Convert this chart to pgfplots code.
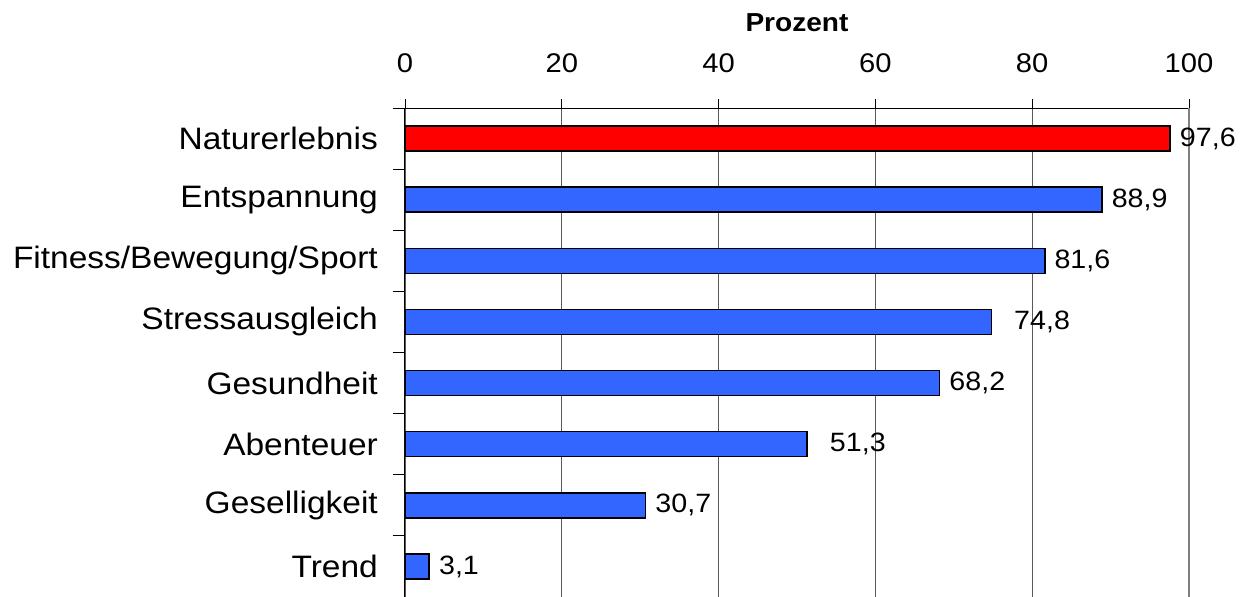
\documentclass[border=0pt]{standalone}
\usepackage{fontspec}
\setmainfont{Liberation Sans}[FakeStretch=1.08]
\usepackage{pgfplots}
\pgfplotsset{compat=1.18}
\usepackage{pgfplotstable}
\usetikzlibrary{calc}

\definecolor{barblue}{HTML}{3366FF}
\definecolor{barred}{HTML}{FF0000}

% Motive, Prozent (Naturerlebnis separat in Rot)
\pgfplotstableread{
pos val
1 88.9
2 81.6
4 68.2
6 30.7
7 3.1
}\blaue
% zwei Beschriftungen stehen im Original weiter rechts
\pgfplotstableread{
pos val
3 74.8
5 51.3
}\blaueweit

\begin{document}
\begin{tikzpicture}
\begin{axis}[
  name=ax,
  scale only axis, width=784bp, height=489bp,
  xmin=0, xmax=100, ymin=-0.5, ymax=7.5, y dir=reverse,
  axis x line*=top, axis y line*=left,
  axis line style={black, line width=1bp},
  tick align=outside,
  xtick={0,20,...,80}, extra x ticks={100},
  xmajorgrids,
  grid style={black!65, line width=0.9bp},
  extra x tick style={grid style={gray, line width=1.8bp}},
  major x tick style={black, line width=0.8bp},
  major tick length=9bp,
  ytick={0,...,7},
  yticklabels={Naturerlebnis, Entspannung, Fitness/Bewegung/Sport, Stressausgleich, Gesundheit, Abenteuer, Geselligkeit, Trend},
  major y tick style={draw=none},
  minor ytick={-0.5,0.5,...,7.5},
  minor y tick style={black, line width=0.8bp},
  minor tick length=12bp,
  /pgf/number format/assume math mode=true,
  xticklabel style={font=\fontsize{27bp}{32bp}\selectfont, inner sep=0pt, anchor=south},
  xticklabel shift=26bp,
  yticklabel style={font=\fontsize{31bp}{37bp}\selectfont, inner sep=0pt, anchor=east},
  yticklabel shift=18bp,
  xlabel={\textbf{Prozent}},
  every axis x label/.style={at={(rel axis cs:0.5,1)}, anchor=base, yshift=76bp, font=\fontsize{26bp}{31bp}\selectfont},
  xbar, bar width=25bp, bar shift=0pt,
  point meta=x,
  nodes near coords={\pgfmathprintnumber[fixed,precision=1,fixed zerofill,use comma,assume math mode=true]{\pgfplotspointmeta}},
  every node near coord/.append style={anchor=west, inner sep=0pt, font=\fontsize{26.5bp}{31bp}\selectfont, text=black},
]
\addplot[draw=black, line width=1.6bp, fill=barred,
  every node near coord/.append style={xshift=9bp}]
  coordinates {(97.6,0)};
\addplot[draw=black, line width=1.6bp, fill=barblue,
  every node near coord/.append style={xshift=9bp}]
  table[x=val, y=pos] {\blaue};
\addplot[draw=black, line width=1.6bp, fill=barblue,
  every node near coord/.append style={xshift=22bp}]
  table[x=val, y=pos] {\blaueweit};
\end{axis}
\pgfresetboundingbox
\path ($(ax.south west)+(-405bp,0)$) rectangle ($(ax.north east)+(54bp,108bp)$);
\end{tikzpicture}
\end{document}
